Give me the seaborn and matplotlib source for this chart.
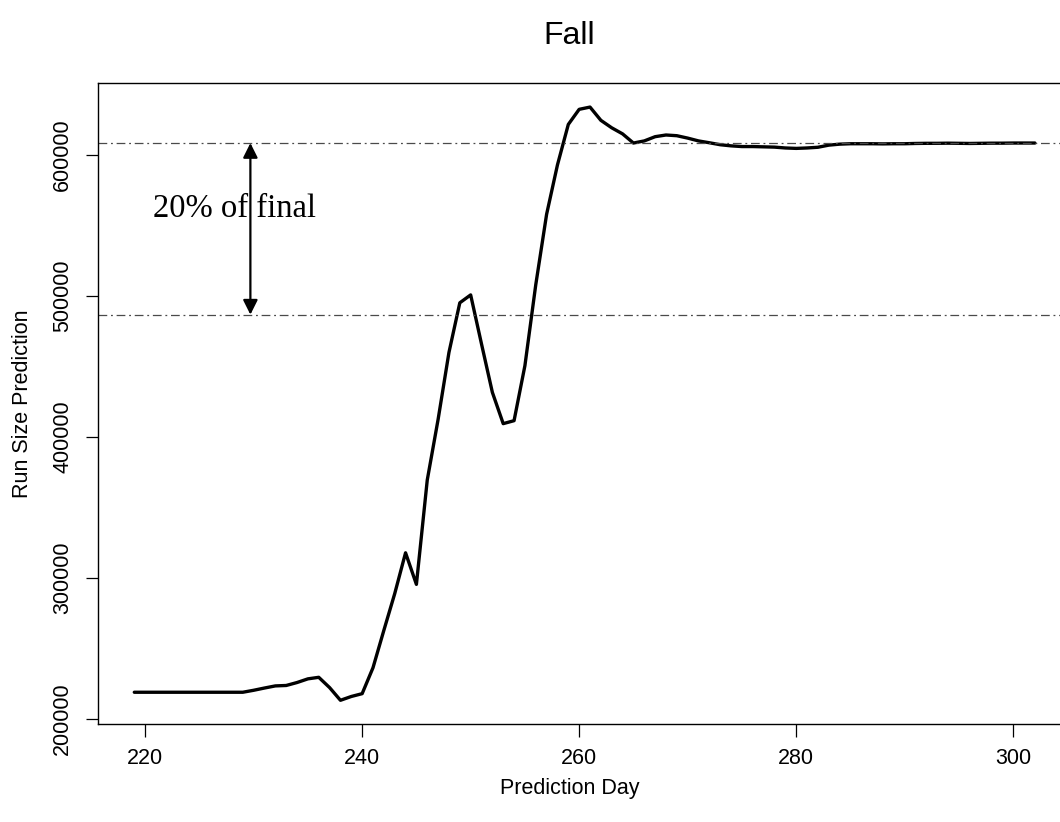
import numpy as np
import pandas as pd
import matplotlib
matplotlib.use("Agg")
import matplotlib.pyplot as plt
import seaborn as sns

# ---- data ----
days = list(range(219, 303))
run_size = [
    219000, 219000, 219000, 219000, 219000, 219000, 219000, 219000, 219000, 219000, 219000,  # 219-229
    220400, 222000, 223500, 223800, 225900, 228500, 229600, 222300, 213300, 216000, 218000,  # 230-240
    236400, 262900, 288900, 317900, 295500, 369500, 412500, 460000, 495200, 500800,          # 241-250
    466000, 431700, 409500, 411600, 450600, 508000, 558000, 593000, 621700, 632400,          # 251-260
    634000, 624600, 619300, 615000, 608500, 610000, 613000, 614200, 613700, 612000,          # 261-270
    610000, 608700, 607300, 606500, 606000, 606000, 605800, 605600, 605000, 604700,          # 271-280
    605000, 605500, 607000, 607700, 608000, 608000, 608000, 607900, 608000, 608000,          # 281-290
    608200, 608300, 608300, 608400, 608300, 608200, 608300, 608400, 608400, 608500,          # 291-300
    608500, 608500,                                                                           # 301-302
]
x_ticks = [220, 240, 260, 280, 300]
y_ticks = [200000, 300000, 400000, 500000, 600000]
title = "Fall"
x_label = "Prediction Day"
y_label = "Run Size Prediction"
note = "20% of final"
arrow_day = 229.7
note_day = 228.2
note_value = 562000

df = pd.DataFrame({"day": days, "run": run_size})
final = run_size[-1]
lower = 0.8 * final

sns.set_style("ticks")
plt.rcParams["font.family"] = ["Liberation Sans", "DejaVu Sans"]
plt.rcParams["text.color"] = "black"
plt.rcParams["axes.labelcolor"] = "black"
plt.rcParams["xtick.color"] = "black"
plt.rcParams["ytick.color"] = "black"

fig = plt.figure(figsize=(10.6, 8.22), dpi=100)
ax = fig.add_axes([0.0927, 0.1192, 0.9176, 0.7794])

sns.lineplot(data=df, x="day", y="run", color="black", linewidth=2.4, ax=ax)

ax.margins(x=0.04, y=0.04)

dash = (0, (7, 3, 1.5, 3))
ax.axhline(final, color="#4a4a4a", linewidth=0.9, linestyle=dash)
ax.axhline(lower, color="#4a4a4a", linewidth=0.9, linestyle=dash)

ax.annotate("", xy=(arrow_day, final), xytext=(arrow_day, lower),
            arrowprops=dict(arrowstyle="<|-|>", color="black", lw=1.6,
                            mutation_scale=22, shrinkA=0, shrinkB=0))
ax.text(note_day, note_value, note, family=["Liberation Serif", "DejaVu Serif"],
        fontsize=23.5, ha="center", va="center", color="black")

ax.set_xticks(x_ticks)
ax.set_yticks(y_ticks)
ax.set_xticklabels([str(v) for v in x_ticks])
ax.set_yticklabels([str(v) for v in y_ticks])
ax.tick_params(axis="both", direction="out", length=9, width=0.9, labelsize=15.5,
               color="black", labelcolor="black")
ax.tick_params(axis="x", pad=8)
ax.tick_params(axis="y", pad=9)
for lab in ax.get_yticklabels():
    lab.set_rotation(90)
    lab.set_va("center")
    lab.set_ha("right")

for sp in ax.spines.values():
    sp.set_visible(True)
    sp.set_color("black")
    sp.set_linewidth(1.0)

ax.set_xlabel(x_label, fontsize=15.5)
ax.set_ylabel(y_label, fontsize=15.5)
ax.xaxis.label.set_va("center")
ax.yaxis.label.set_va("center")
ax.xaxis.set_label_coords(0.485, -0.1)
ax.yaxis.set_label_coords(-0.078, 0.5)

fig.text(569 / 1060, 1 - 36 / 822, title, fontsize=23, ha="center", va="center")

fig.savefig("out.png", dpi=100)
